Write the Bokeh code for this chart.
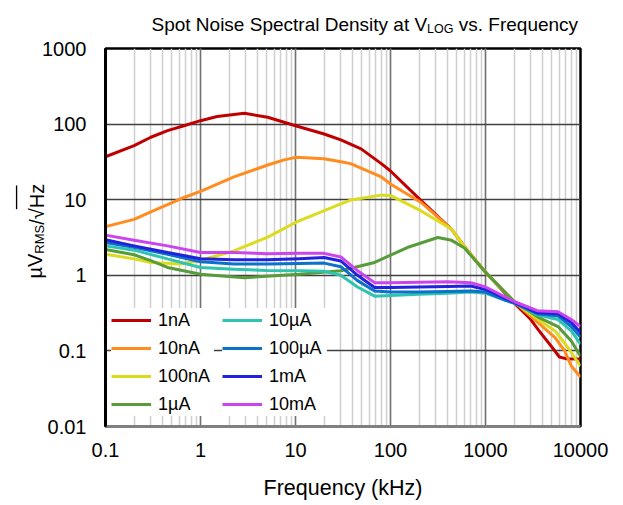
import math
from bokeh.plotting import figure
from bokeh.models import (Label, Legend, LegendItem, CustomJSTickFormatter, Range1d)
from bokeh.embed import file_html
from bokeh.resources import INLINE

FONT = "Liberation Sans"

# ---------------- data (frequency in kHz, noise in uV/rtHz) ----------------
series_labels = ["1nA", "10nA", "100nA", "1µA", "10µA", "100µA", "1mA", "10mA"]
series_colors = ["#C00000", "#FF8C1F", "#DCDC1E", "#579B3A",
                 "#2EC4B0", "#0A72C8", "#2222DD", "#CC44EE"]

f_1nA = [0.1, 0.2, 0.3, 0.45, 0.67, 1, 1.5, 2.9, 5.1, 10, 20, 30, 49, 80, 100,
         210, 436, 600, 1000, 2000, 3000, 3600, 4900, 6000, 7000, 10000]
v_1nA = [37, 52, 67, 82, 95, 111, 126, 139, 123, 95, 74, 62, 47, 30, 24,
         9.7, 4.1, 2.4, 1.1, 0.43, 0.26, 0.19, 0.116, 0.083, 0.079, 0.078]

f_10nA = [0.1, 0.2, 0.3, 0.45, 0.67, 1, 2.25, 5.1, 7.6, 10, 20, 30, 38, 80, 101,
          210, 436, 600, 1000, 2000, 3570, 5400, 6800, 8000, 10000]
v_10nA = [4.4, 5.5, 6.9, 8.6, 10.7, 12.9, 20, 28.8, 33.6, 36.3, 34.7, 31.8, 30, 20, 16,
          9.2, 4.1, 2.4, 1.1, 0.45, 0.237, 0.15, 0.1, 0.063, 0.045]

f_100nA = [0.1, 0.2, 0.3, 0.62, 1, 2.25, 5.1, 10, 30, 38, 80, 101, 210, 436,
           600, 1000, 2000, 3570, 5400, 7400, 10000]
v_100nA = [1.9, 1.65, 1.48, 1.41, 1.58, 2.1, 3.2, 5.0, 8.8, 9.9, 11.5, 11.3, 7.1, 4.1,
           2.4, 1.1, 0.45, 0.26, 0.184, 0.11, 0.063]

f_1uA = [0.1, 0.2, 0.3, 0.45, 1, 2.9, 11, 30, 68, 150, 315, 440, 600, 1000,
         2000, 3570, 5800, 8000, 10000]
v_1uA = [2.2, 1.87, 1.56, 1.27, 1.03, 0.93, 1.03, 1.15, 1.48, 2.33, 3.16, 2.9, 2.3, 1.1,
         0.45, 0.28, 0.21, 0.135, 0.085]

f_low = [0.1, 0.2, 0.45, 1, 2.25, 5, 11, 20, 30, 45, 68, 100, 200, 400, 700,
         1000, 1600, 2000, 3500, 5800, 8000, 10000]
v_10uA = [2.45, 2.15, 1.65, 1.27, 1.2, 1.16, 1.15, 1.13, 1.0, 0.7, 0.53, 0.54, 0.56, 0.58, 0.6,
          0.58, 0.47, 0.43, 0.30, 0.26, 0.184, 0.123]
v_100uA = [2.72, 2.35, 1.9, 1.51, 1.41, 1.41, 1.43, 1.45, 1.3, 0.85, 0.62, 0.6, 0.6, 0.61, 0.62,
           0.6, 0.47, 0.43, 0.31, 0.29, 0.21, 0.153]
v_1mA = [2.95, 2.45, 2.0, 1.66, 1.6, 1.6, 1.66, 1.72, 1.55, 1.0, 0.69, 0.69, 0.7, 0.71, 0.72,
         0.65, 0.5, 0.44, 0.32, 0.31, 0.237, 0.175]
v_10mA = [3.4, 2.9, 2.45, 2.0, 2.0, 1.93, 1.95, 1.95, 1.75, 1.15, 0.80, 0.80, 0.81, 0.82, 0.80,
          0.70, 0.52, 0.45, 0.34, 0.33, 0.26, 0.21]

series_f = [f_1nA, f_10nA, f_100nA, f_1uA, f_low, f_low, f_low, f_low]
series_v = [v_1nA, v_10nA, v_100nA, v_1uA, v_10uA, v_100uA, v_1mA, v_10mA]

# ---------------- figure ----------------
FW, FH = 475, 378
SHIFT = 5   # left panels need a little more room than the page allows
p = figure(frame_width=FW, frame_height=FH,
           x_axis_type="log", y_axis_type="log",
           x_range=Range1d(0.1, 10000), y_range=Range1d(0.01, 1000),
           output_backend="svg", toolbar_location=None,
           min_border_left=105, min_border_right=42,
           min_border_top=48, min_border_bottom=0)
p.styles = {"margin-left": f"-{SHIFT}px"}
p.background_fill_color = "white"
p.border_fill_color = "white"

fmt = CustomJSTickFormatter(code="""
const e = Math.round(Math.log10(tick));
if (e >= 0) { return String(Math.pow(10, e)); }
return Math.pow(10, e).toFixed(-e);
""")

TICK = 20
for ax in (p.xaxis[0], p.yaxis[0]):
    ax.formatter = fmt
    ax.major_tick_line_color = None
    ax.minor_tick_line_color = None
    ax.major_tick_out = 0
    ax.minor_tick_out = 0
    ax.major_tick_in = 0
    ax.minor_tick_in = 0
    ax.major_label_text_font = FONT
    ax.major_label_text_font_size = f"{TICK}px"
    ax.major_label_text_color = "black"

p.xaxis.axis_line_color = "#808080"
p.xaxis.axis_line_width = 3
p.yaxis.axis_line_color = "black"
p.yaxis.axis_line_width = 3
Y_STANDOFF = 19
p.xaxis.major_label_standoff = 16
p.yaxis.major_label_standoff = Y_STANDOFF

p.xaxis.axis_label = "Frequency (kHz)"
p.xaxis.axis_label_text_font = FONT
p.xaxis.axis_label_text_font_size = "21.5px"
p.xaxis.axis_label_text_font_style = "normal"
p.xaxis.axis_label_text_color = "black"
p.xaxis.axis_label_standoff = 16

p.outline_line_color = "black"
p.outline_line_width = 2.5

p.xgrid.grid_line_color = "#707070"
p.xgrid.grid_line_width = 1.5
p.xgrid.minor_grid_line_color = "#cfcfcf"
p.xgrid.minor_grid_line_width = 1.5
p.ygrid.grid_line_color = "#404040"
p.ygrid.grid_line_width = 1.5

renderers = []
for lab_, col, fx, vy in zip(series_labels, series_colors, series_f, series_v):
    r = p.line(fx, vy, line_color=col, line_width=3, line_join="round")
    renderers.append(r)

# ---------------- legends (two columns) ----------------
def make_legend(items, loc, lw):
    return Legend(items=items, location=loc, orientation="vertical",
                  background_fill_color="white", background_fill_alpha=1.0,
                  border_line_color=None, padding=4, spacing=4, margin=0,
                  glyph_width=40, glyph_height=24, label_standoff=7,
                  label_width=lw, label_height=20,
                  label_text_font=FONT, label_text_font_size="18px",
                  label_text_color="black")

items1 = [LegendItem(label=series_labels[i], renderers=[renderers[i]]) for i in range(4)]
items2 = [LegendItem(label=series_labels[i], renderers=[renderers[i]]) for i in range(4, 8)]
p.add_layout(make_legend(items1, (6, 10), 56), "center")
p.add_layout(make_legend(items2, (117, 10), 58), "center")

# ---------------- text pieces (side panels, so they are not clipped) ----------------
def lab(text, x, y, size, angle=0.0, align="left", **kw):
    return Label(x=x, y=y, x_units="screen", y_units="screen", text=text,
                 text_font=FONT, text_font_size=f"{size}px", text_color="black",
                 text_baseline="alphabetic", text_align=align, angle=angle, **kw)

EMH = 1.117                  # ascent + descent of Liberation Sans, in em
FL, FT = 105, 48             # page position of the frame
FR, FB = FL + FW, FT + FH

# --- title: two pieces in the "above" panels ---
T, S = 19, 12.5
w1 = 14.506 * T              # "Spot Noise Spectral Density at V"
w2 = 2.112 * S               # "LOG"
t_x0, t_base = 151, 24
A_bottom = FT
C_bottom = FT - EMH * T
p.add_layout(lab("Spot Noise Spectral Density at V", t_x0 - FL, A_bottom - t_base, T), "above")
p.add_layout(lab("vs. Frequency", t_x0 + w1 + w2 + 0.278 * T - FL, C_bottom - t_base, T), "above")

# --- right panels: LOG subscript, RMS subscript, vinculum ---
p.add_layout(lab("LOG", t_x0 + w1 - FR, FB - (t_base + 4), S), "right")

A2, SS = 20, 13
a = math.pi / 2
yl_base, yl_start = 35, 278
w_muV = (0.576 + 0.667) * A2
w_rms = 2.222 * SS
rms_left = FR + w2
p.add_layout(lab("RMS", yl_base + 4 - rms_left, FB - (yl_start - w_muV), SS, a), "right")

vin_f, vin_n = 1.2, 72
vin_left = rms_left + EMH * SS
hz_start = yl_start - w_muV - w_rms - (0.278 + 0.50) * A2
p.add_layout(lab(" " * vin_n, 16.0 - vin_left, FB - hz_start, vin_f, a,
                 background_fill_color="black", background_fill_alpha=1.0), "right")

# --- left panels: µV and /√Hz ---
ROT_W = 23.85                # panel width taken by a rotated 20px label
yaxis_w = Y_STANDOFF + 4 * 0.556 * TICK
muV_left = FL - yaxis_w - ROT_W
rt_left = muV_left - ROT_W
p.add_layout(lab("µV", yl_base - muV_left, FB - yl_start, A2, a), "left")
p.add_layout(lab("/√Hz", yl_base - rt_left, FB - (yl_start - w_muV - w_rms), A2, a), "left")

open("out.html", "w").write(file_html(p, INLINE))
